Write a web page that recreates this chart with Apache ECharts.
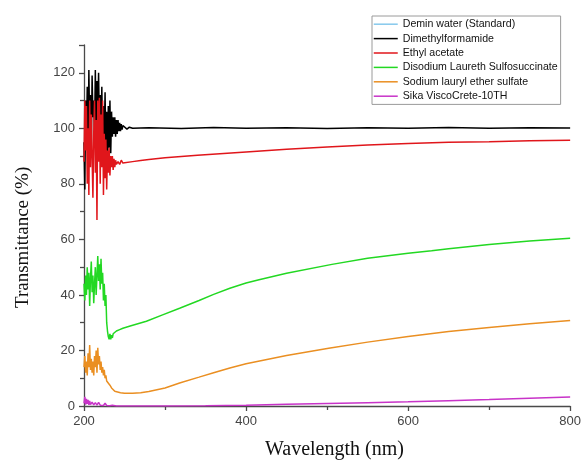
<!DOCTYPE html>
<html>
<head>
<meta charset="utf-8">
<script src="https://cdn.jsdelivr.net/npm/echarts@6/dist/echarts.min.js"></script>
<style>
  html, body { margin: 0; padding: 0; background: #fff; }
  #chart { width: 584px; height: 461px; }
</style>
</head>
<body>
<div id="chart"></div>
<script>
// series names as in the legend
const names = ['Demin water (Standard)', 'Dimethylformamide', 'Ethyl acetate',
  'Disodium Laureth Sulfosuccinate', 'Sodium lauryl ether sulfate', 'Sika ViscoCrete-10TH']
const colors = ['#86c9ec', '#000000', '#e0161b', '#22d822', '#ea8f22', '#c833c8']

// demin water is not visible in the picture (only in the legend)
const waterWl = []
const waterT = []

const dmfWl = [200, 201, 202, 203, 204, 205, 206, 207, 208, 209, 210, 211, 212, 213, 214, 215, 216, 217, 218, 219,
  220, 221, 222, 223, 224, 225, 226, 227, 228, 229, 230, 231, 232, 233, 234, 235, 236, 237, 238, 239,
  240, 241, 242, 243, 244, 245, 246, 247, 248, 250, 253, 256, 260, 280, 320, 360, 400, 450, 500, 550, 600, 650, 700, 750, 800]
const dmfT = [95, 78, 110, 96, 115, 88, 121, 100, 112, 92, 119, 104, 110, 98, 121, 95, 117, 105, 120, 100,
  112, 97, 115, 94, 108, 96, 113, 92, 106, 86, 108, 93, 110, 91, 106, 97, 104, 98, 104, 97,
  103, 98, 103, 99, 102, 99, 101.5, 99.5, 101, 100.6, 99.7, 100.4, 100, 100.2, 99.9, 100.3, 100, 100.2, 99.9, 100.2, 100, 100.3, 100, 100.2, 100.1]

const eaWl = [200, 201, 202, 203, 204, 205, 206, 207, 208, 209, 210, 211, 212, 213, 214, 215, 216, 217, 218, 219,
  220, 221, 222, 223, 224, 225, 226, 227, 228, 229, 230, 231, 232, 233, 234, 235, 236, 237, 238, 239,
  240, 242, 244, 246, 248, 250, 260, 270, 280, 300, 340, 400, 450, 500, 550, 600, 650, 700, 750, 800]
const eaT = [88, 110, 92, 108, 80, 100, 76, 110, 86, 105, 90, 75, 98, 110, 84, 103, 67, 110, 88, 111,
  80, 105, 86, 110, 76, 98, 82, 96, 78, 92, 84, 93, 83, 90, 86, 90, 85, 89, 86, 88.5,
  87, 88, 87, 88.5, 87.5, 88, 88, 88.4, 88.8, 89.4, 90.3, 91.5, 92.5, 93.3, 94, 94.5, 95, 95.2, 95.5, 95.7]

const dlsWl = [200, 201, 202, 203, 204, 205, 206, 207, 208, 209, 210, 211, 212, 213, 214, 215, 216, 217, 218, 219,
  220, 221, 222, 223, 224, 225, 226, 227, 228, 229, 230, 231, 232, 233, 234, 235, 236, 238, 240, 242,
  244, 246, 248, 250, 257, 277, 297, 318, 342, 360, 380, 400, 416, 450, 506, 550, 600, 629, 650, 700, 750, 800]
const dlsT = [44, 38, 47, 40, 50, 42, 48, 36, 46, 52, 41, 47, 37, 44, 50, 40, 47, 54, 45, 51,
  42, 53, 44, 48, 38, 44, 36, 40, 30, 27, 25, 24, 26, 24, 25.5, 24.5, 26, 25.5, 27, 26.5,
  27.5, 27, 28, 27.8, 28.8, 30.5, 32.8, 35.2, 38, 40.2, 42.4, 44.3, 45.5, 47.8, 51, 53.2, 55, 55.9, 56.6, 58.2, 59.4, 60.4]

const slesWl = [200, 201, 202, 203, 204, 205, 206, 207, 208, 209, 210, 211, 212, 213, 214, 215, 216, 217, 218, 219,
  220, 221, 222, 223, 224, 225, 226, 227, 228, 230, 232, 234, 236, 238, 240, 245, 250, 260, 270, 280,
  300, 318, 342, 360, 380, 400, 450, 502, 550, 600, 650, 700, 750, 800]
const slesT = [14, 18, 12, 16, 11, 19, 14, 22, 13, 17, 12, 16, 11, 18, 14, 20, 12, 21, 15, 18,
  13, 16, 12, 14, 11, 13, 10, 11, 9, 8.5, 7.5, 6.5, 5.8, 5.3, 5, 4.8, 4.6, 4.6, 4.8, 5.2,
  6.5, 8.3, 10.4, 12, 13.7, 15.2, 18.2, 20.8, 23, 25, 26.8, 28.3, 29.6, 30.8]

const sikaWl = [200, 201, 202, 203, 204, 205, 206, 207, 208, 210, 212, 214, 216, 218, 220, 222, 224, 226, 228, 230,
  232, 235, 240, 300, 350, 400, 450, 500, 550, 600, 650, 700, 750, 800]
const sikaT = [1, 3.3, 0.5, 2.6, 0.8, 2.2, 0.4, 1.8, 0.5, 1.4, 0.4, 1.2, 0.3, 1.3, 0.3, 0.9, 0.2, 1, 0.2, 0.6,
  0.1, 0.3, 0, 0, 0.1, 0.3, 0.6, 0.9, 1.2, 1.5, 1.9, 2.3, 2.8, 3.2]

const xTicks = [200, 400, 600, 800]
const yTicks = [0, 20, 40, 60, 80, 100, 120]

const wls = [waterWl, dmfWl, eaWl, dlsWl, slesWl, sikaWl]
const vals = [waterT, dmfT, eaT, dlsT, slesT, sikaT]

const chart = echarts.init(document.getElementById('chart'))

const axisColor = '#4a4a4a'
const labelStyle = { color: '#444', fontFamily: 'Liberation Sans', fontSize: 13 }

chart.setOption({
  animation: false,
  backgroundColor: '#fff',
  grid: { left: 84, right: 12, top: 45, bottom: 55 },
  legend: {
    orient: 'vertical',
    left: 372,
    top: 16,
    padding: [2, 3, 2, 1],
    borderColor: '#9a9a9a',
    borderWidth: 1,
    itemWidth: 24,
    itemHeight: 8,
    itemGap: 2,
    itemStyle: { opacity: 0 },
    lineStyle: { width: 1.5 },
    data: names,
    textStyle: { fontFamily: 'Liberation Sans', fontSize: 10.6, lineHeight: 12.4, color: '#111' }
  },
  xAxis: {
    type: 'value',
    min: xTicks[0],
    max: xTicks[xTicks.length - 1],
    interval: xTicks[1] - xTicks[0],
    axisLine: { show: true, lineStyle: { color: axisColor, width: 1.3 } },
    axisTick: { show: true, length: 5, lineStyle: { color: axisColor, width: 1.3 } },
    minorTick: { show: true, splitNumber: 2, length: 4, lineStyle: { color: axisColor, width: 1.3 } },
    splitLine: { show: false },
    axisLabel: Object.assign({ margin: 9 }, labelStyle)
  },
  yAxis: {
    type: 'value',
    min: yTicks[0],
    max: 130,
    interval: yTicks[1] - yTicks[0],
    axisLine: { show: true, lineStyle: { color: axisColor, width: 1.3 } },
    axisTick: { show: true, length: 5, lineStyle: { color: axisColor, width: 1.3 } },
    minorTick: { show: true, splitNumber: 2, length: 4, lineStyle: { color: axisColor, width: 1.3 } },
    splitLine: { show: false },
    axisLabel: Object.assign({
      margin: 9,
      formatter: v => (yTicks.indexOf(v) >= 0 ? String(v) : '')
    }, labelStyle)
  },
  graphic: [
    {
      type: 'text',
      left: 265,
      top: 440,
      style: { text: 'Wavelength (nm)', fontFamily: 'Liberation Serif', fontSize: 20, fill: '#111' }
    },
    {
      type: 'text',
      x: 14,
      y: 308,
      rotation: Math.PI / 2,
      style: { text: 'Transmittance (%)', fontFamily: 'Liberation Serif', fontSize: 19, fill: '#111' }
    }
  ],
  series: names.map((name, i) => ({
    name: name,
    type: 'line',
    symbol: 'none',
    color: colors[i],
    lineStyle: { width: 1.5 },
    data: wls[i].map((w, j) => [w, vals[i][j]])
  }))
})
</script>
</body>
</html>
